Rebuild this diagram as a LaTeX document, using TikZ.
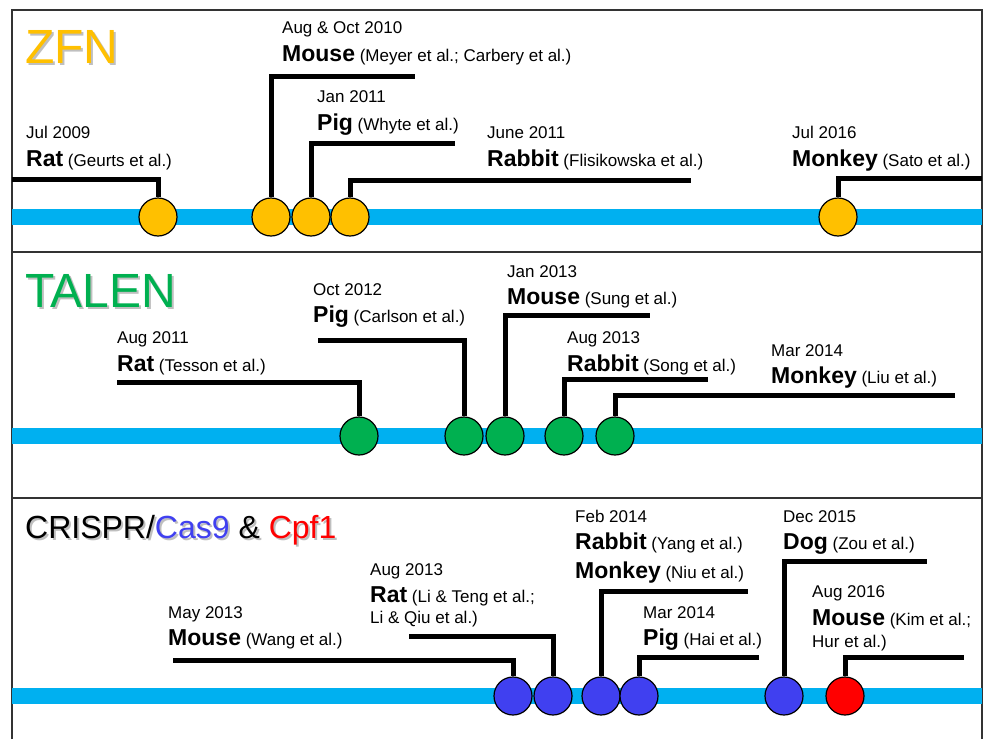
\documentclass[tikz,border=0pt]{standalone}
\usepackage{fontspec}
\setmainfont{Liberation Sans}
\usepackage{tikz}
\usetikzlibrary{positioning}
\definecolor{zfncol}{HTML}{FFC000}
\definecolor{talencol}{HTML}{00B050}
\definecolor{casblue}{HTML}{4040F0}
\definecolor{cpfred}{HTML}{FF0000}
\definecolor{barcol}{HTML}{00B0F0}
\newcommand{\animal}[1]{{\fontsize{23}{26}\selectfont\bfseries #1}}

\begin{document}
\begin{tikzpicture}[
    x=1pt, y=-1pt,
    frame/.style={draw=black!80, line width=1.5pt},
    bar/.style={barcol, line width=16pt},
    event/.style={circle, draw, line width=1.2pt, minimum size=38pt, inner sep=0pt},
    leader/.style={line width=5pt},
    label/.style={anchor=base west, inner sep=0pt, font=\fontsize{17}{20}\selectfont},
    title/.style={anchor=base west, inner sep=0pt, font=\fontsize{48}{52}\selectfont},
    shadow/.style={text=black!25, xshift=2pt, yshift=-2pt}
]
\useasboundingbox (0,0) rectangle (985,739);
\draw[frame] (12,739) -- (12,10) -- (982,10) -- (982,739);
\draw[frame] (12,252) -- (982,252);
\draw[frame] (12,498) -- (982,498);

% ZFN
\node[title, shadow] (zfnS) at (25,63) {ZFN};
\node[title, text=zfncol] (zfn) at (25,63) {ZFN};
\coordinate (zL) at (12,217);
\coordinate (zR) at (982,217);
\draw[bar] (zL) -- (zR);
\node[event, fill=zfncol] (zRat) at (158,217) {};
\node[event, fill=zfncol] (zMouse) at (271,217) {};
\node[event, fill=zfncol] (zPig) at (311,217) {};
\node[event, fill=zfncol] (zRabbit) at (350,217) {};
\node[event, fill=zfncol] (zMonkey) at (838,217) {};
\coordinate (zRatE) at (12,179);
\coordinate (zMouseE) at (415,76);
\coordinate (zPigE) at (455,143);
\coordinate (zRabbitE) at (691,180);
\coordinate (zMonkeyE) at (982,178);
\draw[leader] (zRatE) -| (zRat.north);
\draw[leader] (zMouse.north) |- (zMouseE);
\draw[leader] (zPig.north) |- (zPigE);
\draw[leader] (zRabbit.north) |- (zRabbitE);
\draw[leader] (zMonkey.north) |- (zMonkeyE);
\node[label] (zRatN) at (26,166) {\animal{Rat} (Geurts et al.)};
\node[label] (zRatD) at ([yshift=28pt]zRatN.base west) {Jul 2009};
\node[label] (zMouseN) at (282,61) {\animal{Mouse} (Meyer et al.; Carbery et al.)};
\node[label] (zMouseD) at ([yshift=28pt]zMouseN.base west) {Aug \& Oct 2010};
\node[label] (zPigN) at (317,130) {\animal{Pig} (Whyte et al.)};
\node[label] (zPigD) at ([yshift=28pt]zPigN.base west) {Jan 2011};
\node[label] (zRabbitN) at (487,166) {\animal{Rabbit} (Flisikowska et al.)};
\node[label] (zRabbitD) at ([yshift=28pt]zRabbitN.base west) {June 2011};
\node[label] (zMonkeyN) at (792,166) {\animal{Monkey} (Sato et al.)};
\node[label] (zMonkeyD) at ([yshift=28pt]zMonkeyN.base west) {Jul 2016};

% TALEN
\node[title, shadow] (talenS) at (25,307) {TALEN};
\node[title, text=talencol] (talen) at (25,307) {TALEN};
\coordinate (tL) at (12,436);
\coordinate (tR) at (982,436);
\draw[bar] (tL) -- (tR);
\node[event, fill=talencol] (tRat) at (359,436) {};
\node[event, fill=talencol] (tPig) at (464,436) {};
\node[event, fill=talencol] (tMouse) at (505,436) {};
\node[event, fill=talencol] (tRabbit) at (564,436) {};
\node[event, fill=talencol] (tMonkey) at (615,436) {};
\coordinate (tRatE) at (117,382);
\coordinate (tPigE) at (318,340);
\coordinate (tMouseE) at (650,315);
\coordinate (tRabbitE) at (708,379);
\coordinate (tMonkeyE) at (955,395);
\draw[leader] (tRatE) -| (tRat.north);
\draw[leader] (tPigE) -| (tPig.north);
\draw[leader] (tMouse.north) |- (tMouseE);
\draw[leader] (tRabbit.north) |- (tRabbitE);
\draw[leader] (tMonkey.north) |- (tMonkeyE);
\node[label] (tRatN) at (117,371) {\animal{Rat} (Tesson et al.)};
\node[label] (tRatD) at ([yshift=28pt]tRatN.base west) {Aug 2011};
\node[label] (tPigN) at (313,322) {\animal{Pig} (Carlson et al.)};
\node[label] (tPigD) at ([yshift=27pt]tPigN.base west) {Oct 2012};
\node[label] (tMouseN) at (507,304) {\animal{Mouse} (Sung et al.)};
\node[label] (tMouseD) at ([yshift=27pt]tMouseN.base west) {Jan 2013};
\node[label] (tRabbitN) at (567,371) {\animal{Rabbit} (Song et al.)};
\node[label] (tRabbitD) at ([yshift=28pt]tRabbitN.base west) {Aug 2013};
\node[label] (tMonkeyN) at (771,383) {\animal{Monkey} (Liu et al.)};
\node[label] (tMonkeyD) at ([yshift=27pt]tMonkeyN.base west) {Mar 2014};

% CRISPR
\node[title, shadow, font=\fontsize{32}{36}\selectfont] (crS) at (25,538) {CRISPR/Cas9 \& Cpf1};
\node[title, font=\fontsize{32}{36}\selectfont] (cr) at (25,538)
    {CRISPR/\textcolor{casblue}{Cas9} \& \textcolor{cpfred}{Cpf1}};
\coordinate (cL) at (12,696);
\coordinate (cR) at (982,696);
\draw[bar] (cL) -- (cR);
\node[event, fill=casblue] (cMouse) at (513,696) {};
\node[event, fill=casblue] (cRat) at (553,696) {};
\node[event, fill=casblue] (cRabbit) at (601,696) {};
\node[event, fill=casblue] (cPig) at (639,696) {};
\node[event, fill=casblue] (cDog) at (784,696) {};
\node[event, fill=cpfred] (cMouseK) at (845,696) {};
\coordinate (cMouseE) at (173,660);
\coordinate (cRatE) at (409,636);
\coordinate (cRabbitE) at (748,591);
\coordinate (cPigE) at (759,657);
\coordinate (cDogE) at (927,561);
\coordinate (cMouseKE) at (964,657);
\draw[leader] (cMouseE) -| (cMouse.north);
\draw[leader] (cRatE) -| (cRat.north);
\draw[leader] (cRabbit.north) |- (cRabbitE);
\draw[leader] (cPig.north) |- (cPigE);
\draw[leader] (cDog.north) |- (cDogE);
\draw[leader] (cMouseK.north) |- (cMouseKE);
\node[label] (cMouseN) at (168,645) {\animal{Mouse} (Wang et al.)};
\node[label] (cMouseD) at ([yshift=27pt]cMouseN.base west) {May 2013};
\node[label] (cRatN) at (370,602) {\animal{Rat} (Li \& Teng et al.;};
\node[label] (cRatN2) at ([yshift=-21pt]cRatN.base west) {Li \& Qiu et al.)};
\node[label] (cRatD) at ([yshift=27pt]cRatN.base west) {Aug 2013};
\node[label] (cRabbitN) at (575,549) {\animal{Rabbit} (Yang et al.)};
\node[label] (cRabbitD) at ([yshift=27pt]cRabbitN.base west) {Feb 2014};
\node[label] (cMonkeyN) at ([yshift=-29pt]cRabbitN.base west) {\animal{Monkey} (Niu et al.)};
\node[label] (cPigN) at (643,645) {\animal{Pig} (Hai et al.)};
\node[label] (cPigD) at ([yshift=27pt]cPigN.base west) {Mar 2014};
\node[label] (cDogN) at (783,549) {\animal{Dog} (Zou et al.)};
\node[label] (cDogD) at ([yshift=27pt]cDogN.base west) {Dec 2015};
\node[label] (cMouseKN) at (812,625) {\animal{Mouse} (Kim et al.;};
\node[label] (cMouseKN2) at ([yshift=-22pt]cMouseKN.base west) {Hur et al.)};
\node[label] (cMouseKD) at ([yshift=28pt]cMouseKN.base west) {Aug 2016};
\end{tikzpicture}
\end{document}
